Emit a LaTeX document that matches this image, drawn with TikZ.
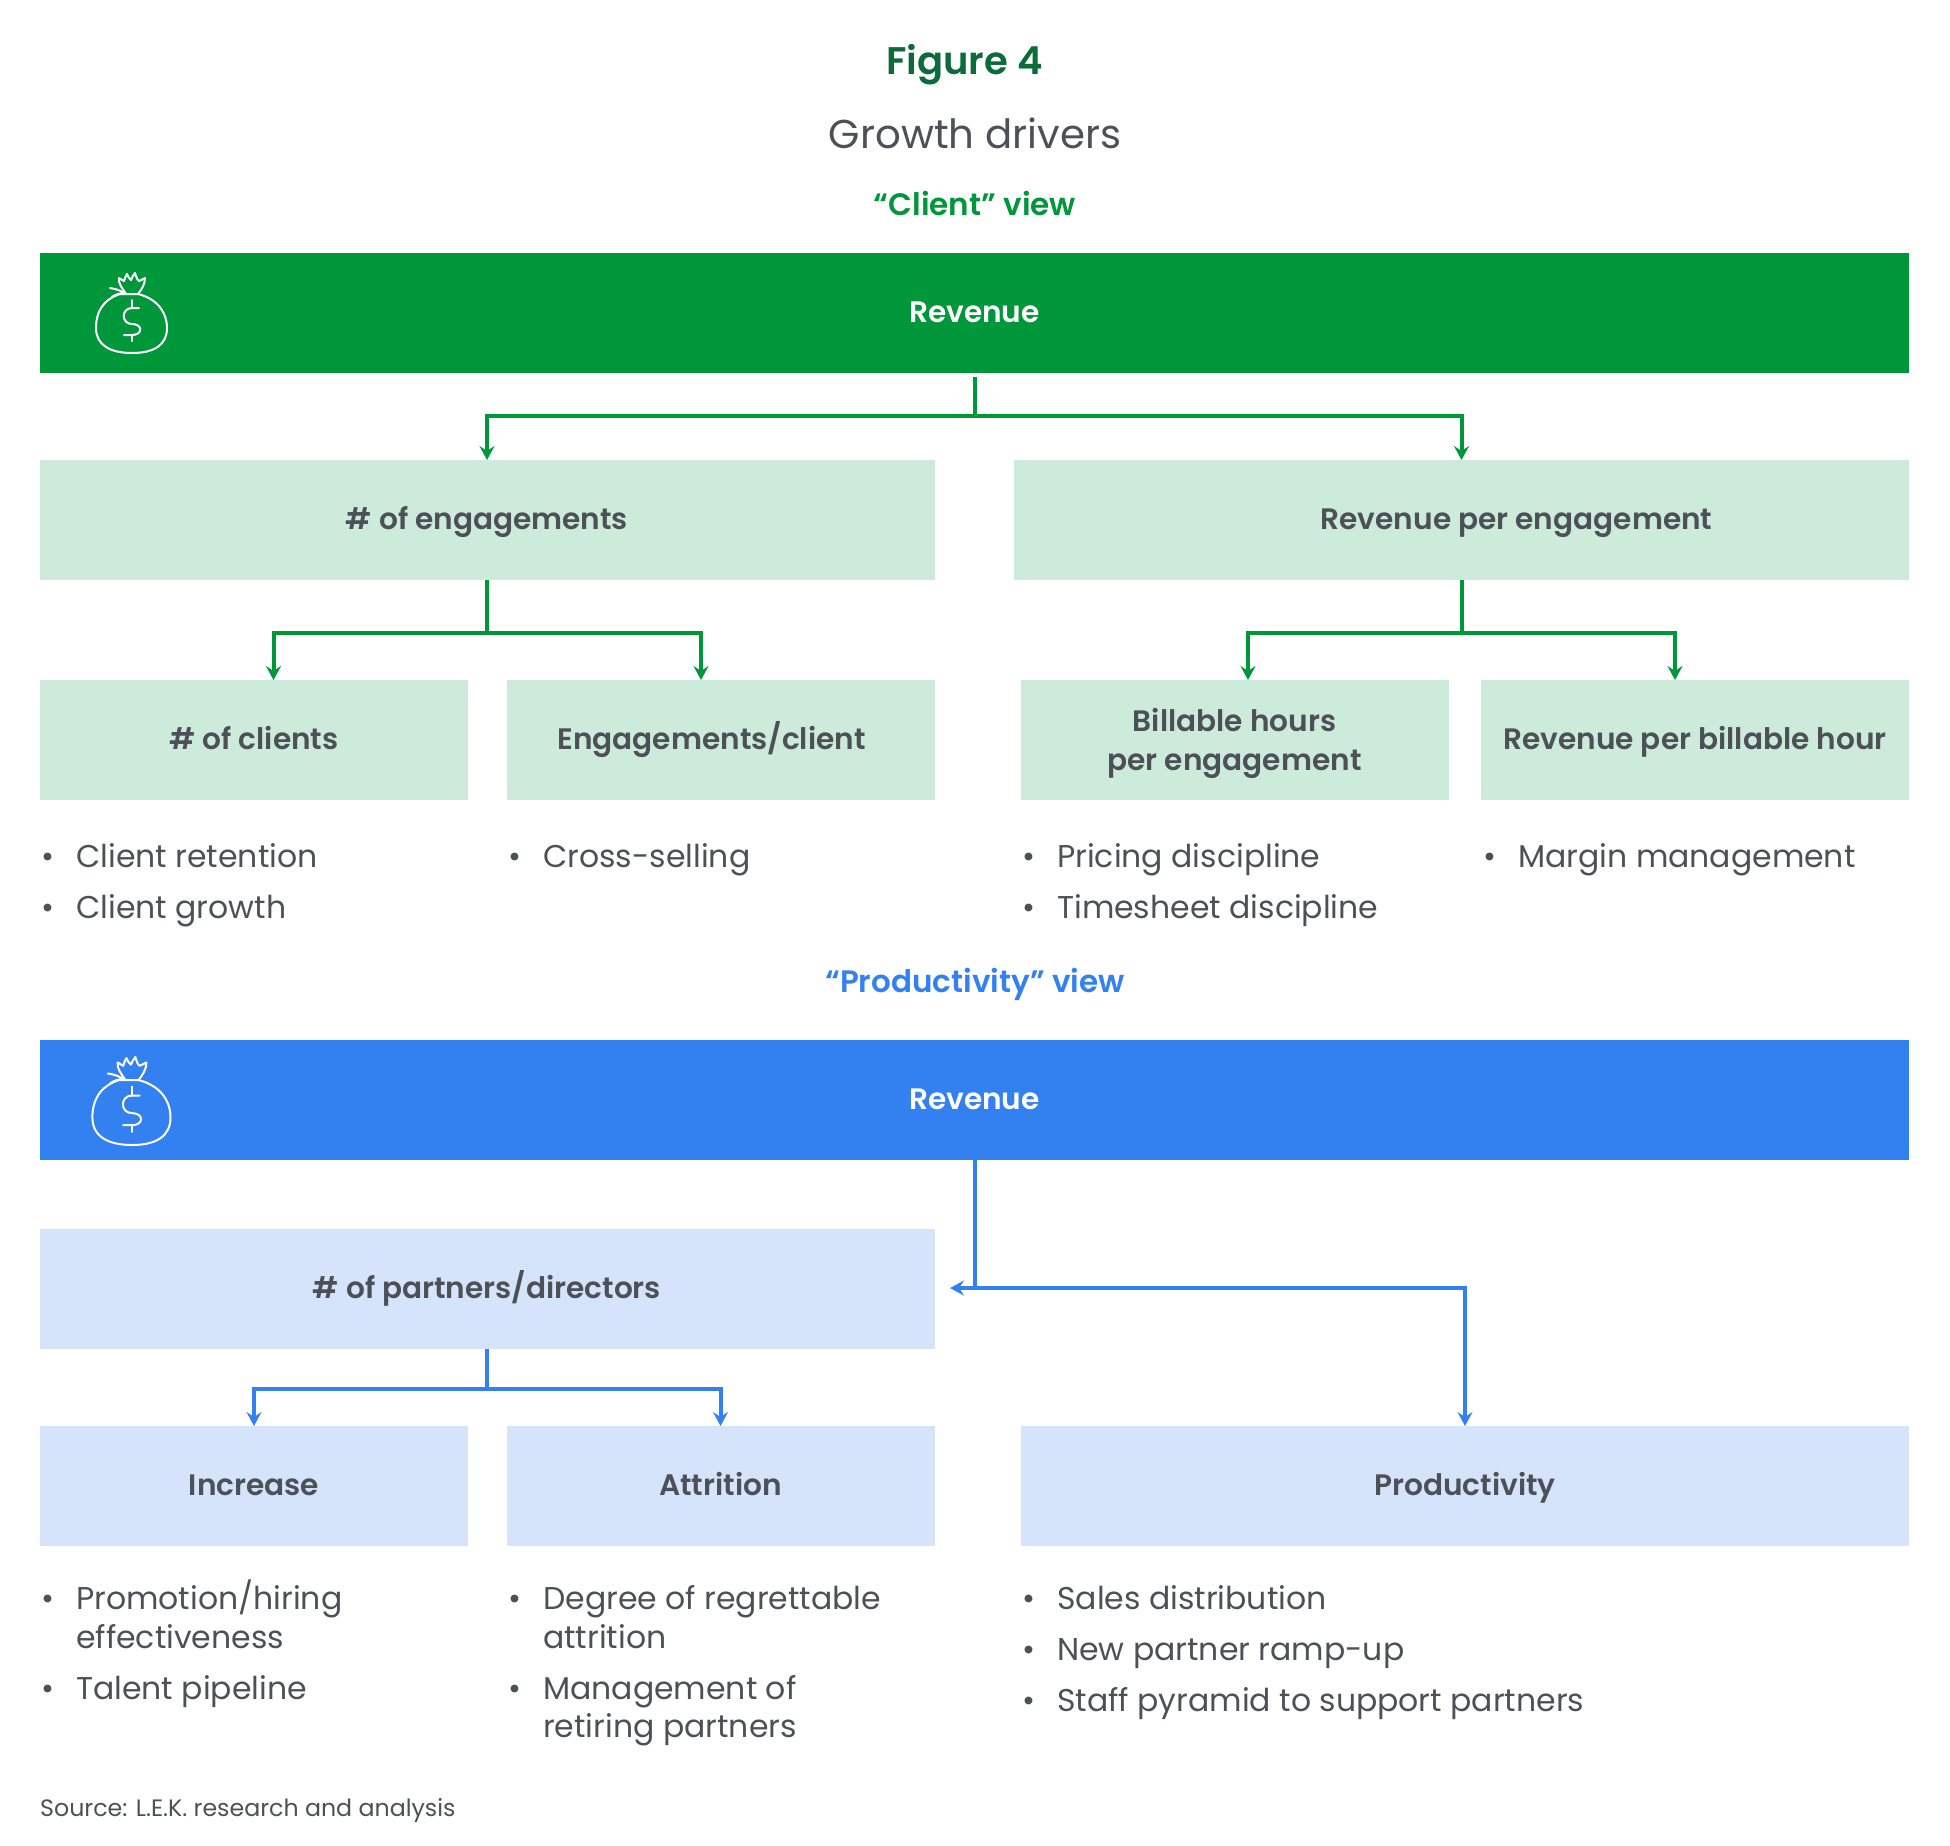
\documentclass[tikz,border=0pt]{standalone}
\usepackage{fontspec}
\setmainfont{Poppins}[BoldFont={Poppins SemiBold}]
\usetikzlibrary{arrows.meta}
\definecolor{gmain}{HTML}{00963A}
\definecolor{glight}{HTML}{CDEBDB}
\definecolor{gdark}{HTML}{0B6B3A}
\definecolor{bmain}{HTML}{3380F0}
\definecolor{blight}{HTML}{D6E4FB}
\definecolor{ink}{HTML}{4D5157}
\newcommand{\fs}[1]{\fontsize{#1}{#1}\selectfont}
\newcommand{\bagicon}{%
  \draw (-12,-29) .. controls (-30,-23) and (-36,-10) .. (-36,5) .. controls (-36,22) and (-22,30) .. (0,30) .. controls (22,30) and (35,22) .. (35,5) .. controls (35,-10) and (26,-24) .. (6,-29) -- (-12,-29);
  \draw (-6,-29) .. controls (-10,-35) and (-14,-40) .. (-13,-45) -- (-8,-42) .. controls (-7,-45) and (-6,-48) .. (-5,-49) .. controls (-4,-47) and (-3,-44) .. (-1,-43) .. controls (0,-45) and (1,-48) .. (3,-50) .. controls (4,-47) and (5,-43) .. (7,-42) -- (13,-45) .. controls (13,-38) and (9,-33) .. (6,-29);
  \draw (-22,-35) .. controls (-15,-34) and (-10,-32) .. (-7,-29);
  \draw (-20,-26) .. controls (-16,-29) and (-11,-30) .. (-7,-30);
  \draw (7,-15) -- (0,-15) .. controls (-11,-15) and (-11,1) .. (0,1) .. controls (11,1) and (11,12) .. (0,12) -- (-8,12);
  \draw (0,-15) -- (0,-23) (0,12) -- (0,18);
}
\tikzset{
  x=1pt, y=-1pt,
  box/.style={inner sep=0pt, outer sep=0pt, align=center, font=\bfseries\fs{29.6}},
  oneline/.style={text height=19.5pt, text depth=0pt},
  gtop/.style={box, oneline, fill=gmain, text=white, minimum width=1869pt, minimum height=120pt},
  btop/.style={box, oneline, fill=bmain, text=white, minimum width=1869pt, minimum height=120pt},
  gbox/.style={box, fill=glight, text=ink},
  bbox/.style={box, fill=blight, text=ink},
  wide/.style={oneline, minimum width=895pt, minimum height=120pt},
  small/.style={oneline, minimum width=428pt, minimum height=120pt},
  twolines/.style={minimum width=428pt, minimum height=120pt},
  gconn/.style={draw=gmain, line width=4pt},
  bconn/.style={draw=bmain, line width=4pt},
  gtip/.style={gconn, -{Stealth[length=14pt,width=15pt,inset=5pt]}},
  btip/.style={bconn, -{Stealth[length=14pt,width=15pt,inset=5pt]}},
  itemtext/.style={inner sep=0pt, anchor=base west, text=ink, font=\fs{31.5}},
  heading/.style={inner sep=0pt, align=center},
  icon/.style={draw=white, line width=2pt, line cap=round, line join=round},
}
\newcommand{\bitem}[4]{%
  \node[itemtext] (#1b) at (#2-35,#3+10) {•};
  \node[itemtext] (#1) at (#2,#3+10) {#4};
}
\begin{document}
\begin{tikzpicture}
\useasboundingbox (0,0) rectangle (1950,1845);
\node[heading, text=gdark, font=\bfseries\fs{38.5}] (fig) at (964.5,65) {Figure 4};
\node[heading, text=ink, font=\fs{40.3}] (title) at (975,133) {Growth drivers};
\node[heading, text=gmain, font=\bfseries\fs{31}] (cview) at (975,203) {“Client” view};
\node[heading, text=bmain, font=\bfseries\fs{31}] (pview) at (975,984.5) {“Productivity” view};

\node[gtop] (grev) at (974.5,313) {Revenue};
\node[gbox,wide] (gl) at (487,520) {\# of engagements};
\node[gbox,wide] (gr) at (1461.5,520) {\hspace*{110pt}Revenue per engagement};
\node[gbox,small] (g1) at (254,740) {\# of clients};
\node[gbox,small] (g2) at (720.5,740) {\hspace*{-18pt}Engagements/client};
\node[gbox,twolines] (g3) at (1234.5,740) {\rule{0pt}{30pt}Billable hours\\[10pt]per engagement};
\node[gbox,small] (g4) at (1695,740) {Revenue per billable hour};

\node[btop] (brev) at (974.5,1100) {Revenue};
\node[bbox,wide] (bl) at (487,1288.5) {\# of partners/directors};
\node[bbox,small] (b1) at (254,1486) {Increase};
\node[bbox,small] (b2) at (720.5,1486) {Attrition};
\node[bbox,oneline,minimum width=888pt,minimum height=120pt] (b3) at (1465,1486) {Productivity};

\coordinate (jg) at (974.5,416);
\coordinate (jgl) at (487,633);
\coordinate (jgr) at (1461.5,633);
\coordinate (jb) at (974.5,1288);
\coordinate (jbl) at (487,1389);
\coordinate (gstart) at (974.5,377);
\coordinate (bwest) at (950,1288);

\draw[gconn] (gstart) -- (jg);
\draw[gtip] (jg) -| (gl.north);
\draw[gtip] (jg) -| (gr.north);
\draw[gconn] (gl.south) -- (jgl);
\draw[gconn] (gr.south) -- (jgr);
\coordinate (g1t) at (273.5,680);
\coordinate (g2t) at (701,680);
\coordinate (g3t) at (1248,680);
\coordinate (g4t) at (1675,680);
\draw[gtip] (jgl) -| (g1t);
\draw[gtip] (jgl) -| (g2t);
\draw[gtip] (jgr) -| (g3t);
\draw[gtip] (jgr) -| (g4t);

\draw[bconn] (brev.south) -- (jb);
\draw[btip] (jb) -- (bwest);
\draw[btip] (jb) -| (b3.north);
\draw[bconn] (bl.south) -- (jbl);
\draw[btip] (jbl) -| (b1.north);
\draw[btip] (jbl) -| (b2.north);

\begin{scope}[shift={(132,323)},icon]\bagicon\end{scope}
\begin{scope}[shift={(132,1112)},scale=1.1,icon]\bagicon\end{scope}

\bitem{ga}{76}{857}{Client retention}
\bitem{gb}{76}{908}{Client growth}
\bitem{gc}{543}{857}{Cross-selling}
\bitem{gd}{1057}{857}{Pricing discipline}
\bitem{ge}{1057}{908}{Timesheet discipline}
\bitem{gf}{1518}{857}{Margin management}

\bitem{ba}{76}{1599}{Promotion/hiring}
\node[itemtext] (ba2) at (76,1648) {effectiveness};
\bitem{bb}{76}{1689}{Talent pipeline}
\bitem{bc}{543}{1599}{Degree of regrettable}
\node[itemtext] (bc2) at (543,1648) {attrition};
\bitem{bd}{543}{1689}{Management of}
\node[itemtext] (bd2) at (543,1737) {retiring partners};
\bitem{be}{1057}{1599}{Sales distribution}
\bitem{bf}{1057}{1650}{New partner ramp-up}
\bitem{bg}{1057}{1701}{Staff pyramid to support partners}

\node[inner sep=0pt, anchor=base west, text=ink, font=\fs{23.7}] (src) at (40,1816) {Source: L.E.K. research and analysis};
\end{tikzpicture}
\end{document}
